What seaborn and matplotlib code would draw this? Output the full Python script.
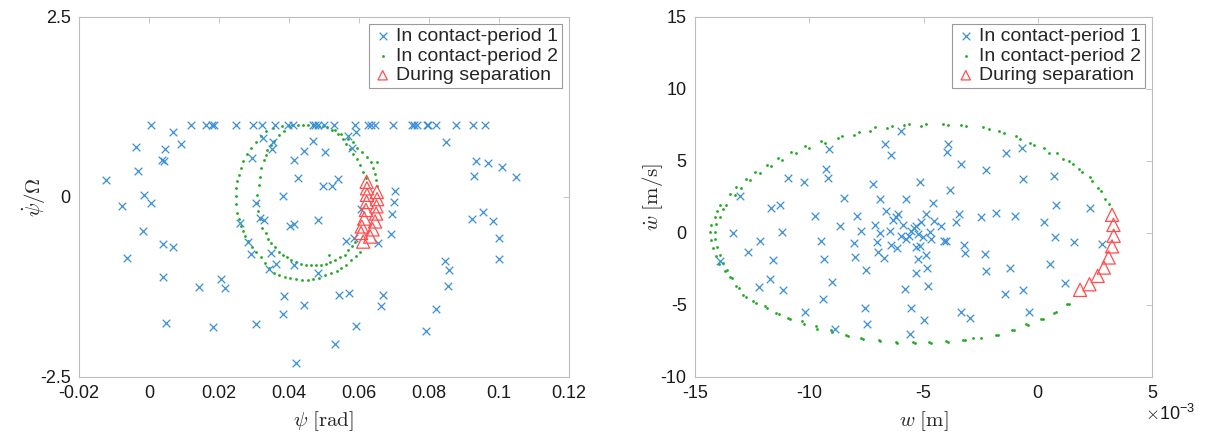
import numpy as np
import matplotlib
matplotlib.use("Agg")
import matplotlib.pyplot as plt
import seaborn as sns

# ---- left panel: psi [rad] vs psi_dot / Omega ----
psi_top_row = [0.0005, 0.012, 0.0162, 0.0179, 0.0186, 0.0249, 0.0296, 0.0322, 0.036, 0.0398,
               0.0412, 0.0468, 0.0474, 0.0484, 0.0499, 0.0529, 0.059, 0.0625, 0.0635, 0.0647,
               0.0697, 0.0751, 0.0758, 0.0765, 0.0793, 0.0798, 0.0821, 0.0876, 0.0927, 0.0959]
psi_c1 = [0.0069, -0.0037, 0.0046, 0.0091, 0.0038, 0.0044, -0.0031, -0.0123, -0.0014, 0.0327,
          0.0355, 0.0351, 0.0295, 0.0415, 0.0444, 0.0427, 0.0468, 0.0503, 0.0498, 0.0522,
          0.0539, 0.0569, 0.0591, 0.0579, 0.0382, 0.0703, 0.0849, 0.0935, 0.097, 0.101,
          0.0928, 0.105,
          -0.0078, 0.0005, -0.0016, -0.0064, 0.0041, 0.0069, 0.0039, 0.005, 0.0144, 0.0205,
          0.0217, 0.0184, 0.0305, 0.026, 0.0317, 0.0329, 0.0282, 0.0291, 0.0348, 0.0362,
          0.0343, 0.0403, 0.0414, 0.0415, 0.0482, 0.0482, 0.0387, 0.0382, 0.0444, 0.0305,
          0.042, 0.0542, 0.0571, 0.0531, 0.0591, 0.0562, 0.0587, 0.0606, 0.0655, 0.0691,
          0.0695, 0.0701, 0.0669, 0.0662, 0.0846, 0.0858, 0.0853, 0.0819, 0.0791, 0.0924,
          0.0955, 0.0984, 0.1001, 0.1001]
psidot_c1 = [0.90, 0.69, 0.667, 0.73, 0.51, 0.50, 0.36, 0.236, 0.025, 0.815,
             0.76, 0.667, 0.546, 0.514, 0.643, 0.27, 0.78, 0.63, 0.153, 0.153,
             0.245, 0.84, 0.90, 0.676, 0.01, 0.08, 0.76, 0.505, 0.468, 0.42,
             0.293, 0.273,
             -0.125, -0.079, -0.472, -0.85, -0.657, -0.699, -1.115, -1.745, -1.254, -1.143,
             -1.27, -1.81, -0.079, -0.366, -0.287, -0.32, -0.62, -0.79, -0.78, -0.93,
             -1.0, -0.41, -0.375, -0.944, -0.32, -1.05, -1.37, -1.63, -1.5, -1.76,
             -2.30, -1.357, -1.33, -2.04, -1.79, -0.607, -0.574, -0.167, -0.634, -0.514,
             -0.24, -0.074, -1.36, -1.52, -0.885, -1.014, -1.23, -1.56, -1.86, -0.306,
             -0.204, -0.333, -0.574, -0.866]

psi_c2 = [0.0355, 0.038, 0.041, 0.044, 0.047, 0.0497, 0.0522, 0.0541, 0.0555, 0.0564,
          0.0574, 0.0583, 0.0593, 0.0602, 0.0611, 0.0619,
          0.0334, 0.032, 0.0306, 0.0292, 0.0279, 0.027, 0.0262, 0.0256, 0.0252, 0.025,
          0.025, 0.025, 0.0252, 0.0256, 0.0262, 0.0268, 0.0275, 0.0282, 0.0293, 0.0306,
          0.032, 0.0331, 0.0343, 0.0357, 0.0371, 0.0388, 0.0404, 0.042, 0.0436, 0.0453,
          0.0469, 0.0486, 0.0504, 0.052, 0.0536, 0.055, 0.0564, 0.0577, 0.0591, 0.0602,
          0.0399, 0.0425, 0.0455, 0.0485, 0.0508, 0.0532, 0.055, 0.0569, 0.0583, 0.0595,
          0.0609, 0.0623, 0.0635, 0.0639, 0.0647, 0.0649, 0.0651,
          0.0385, 0.0371, 0.0357, 0.0348, 0.0338, 0.0333, 0.0329, 0.0321, 0.0317, 0.0313,
          0.031, 0.031, 0.0312, 0.0317, 0.0324, 0.0334, 0.0341, 0.0348,
          0.036, 0.0371, 0.0383, 0.0394, 0.0407, 0.0421, 0.0434, 0.0448, 0.0462, 0.0477,
          0.0491, 0.0505, 0.0518, 0.0532, 0.0546, 0.056, 0.0569, 0.0579, 0.0588,
          0.0515, 0.0652]
psidot_c2 = [0.96, 0.99, 1.0, 1.0, 1.0, 0.98, 0.93, 0.88, 0.81, 0.74,
             0.67, 0.60, 0.53, 0.44, 0.34, 0.27,
             0.92, 0.84, 0.77, 0.68, 0.59, 0.50, 0.40, 0.31, 0.22, 0.13,
             0.01, -0.10, -0.22, -0.31, -0.40, -0.47, -0.54, -0.61, -0.70, -0.77,
             -0.83, -0.92, -0.99, -1.05, -1.08, -1.11, -1.13, -1.14, -1.15, -1.15,
             -1.14, -1.13, -1.09, -1.06, -1.03, -0.99, -0.94, -0.88, -0.82, -0.76,
             0.98, 1.0, 1.0, 0.99, 0.97, 0.93, 0.87, 0.81, 0.76, 0.68,
             0.62, 0.55, 0.48, 0.40, 0.32, 0.24, 0.15,
             0.92, 0.86, 0.78, 0.72, 0.65, 0.58, 0.51, 0.40, 0.28, 0.17,
             0.03, -0.08, -0.20, -0.31, -0.43, -0.50, -0.58, -0.64,
             -0.70, -0.76, -0.80, -0.84, -0.87, -0.90, -0.93, -0.94, -0.95, -0.95,
             -0.94, -0.93, -0.90, -0.87, -0.83, -0.80, -0.74, -0.68, -0.63,
             -0.80, 0.48]

psi_sep = [0.0622, 0.0623, 0.0623, 0.0622, 0.062, 0.0615, 0.0608, 0.0606, 0.0612,
           0.0651, 0.0652, 0.065, 0.0649, 0.0646, 0.0639, 0.0632]
psidot_sep = [0.21, 0.12, 0.03, -0.07, -0.18, -0.30, -0.41, -0.50, -0.62,
              0.07, -0.03, -0.13, -0.23, -0.34, -0.45, -0.55]

# ---- right panel: w [x1e-3 m] vs w_dot [m/s] ----
w_c1 = [-5.98, -6.68, -6.41, -9.15, -9.26, -9.18, -10.93, -10.23, -7.22, -5.15,
        -3.94, -3.97, -3.38, -3.86, -2.26, -1.38, -0.69, -0.66, 0.73,
        -13.05, -11.66, -11.30, -13.34, -11.18, -12.17, -12.68, -11.59, -13.92, -11.71,
        -12.20, -11.15, -9.74, -9.48, -9.37, -9.01, -9.40, -10.17, -8.86, -8.50,
        -8.67, -7.90, -8.06, -8.02, -7.73, -7.51, -7.55, -7.46, -7.14, -6.92,
        -7.04, -7.00, -6.90, -6.66, -6.71, -6.49, -6.41, -6.20, -6.17, -6.12,
        -6.34, -5.90, -5.76, -5.80, -5.54, -5.61, -5.98, -5.76, -5.64, -5.54,
        -5.44, -5.32, -5.25, -5.32, -5.10, -5.03, -5.17, -5.00, -4.91, -4.88,
        -4.85, -4.81, -5.35, -5.25, -4.71, -4.66, -4.59, -4.56, -4.23, -4.11,
        -4.01, -3.57, -3.45, -3.21, -3.18, -3.38, -2.96, -2.48, -2.33, -2.26,
        -1.82, -1.21, -0.99, -1.43, -0.66, -0.39, 0.26, 0.55, 0.76, 0.80,
        1.20, 1.60, 2.29, 2.81]
wdot_c1 = [7.05, 6.21, 5.40, 5.86, 4.47, 3.84, 3.79, 3.56, 3.37, 3.53,
           6.21, 5.63, 4.77, 2.98, 4.37, 5.53, 5.88, 3.72, 3.95,
           2.56, 1.72, 1.95, -0.02, 0.09, -0.53, -1.30, -1.88, -1.93, -3.21,
           -3.72, -3.95, 1.16, -0.53, -1.81, -3.37, -4.60, -5.49, -6.70, 2.44,
           0.47, 1.21, -0.72, -1.65, 0.12, -2.56, -5.23, -6.35, 0.56, 2.37,
           -0.60, -1.35, 0.0, 1.56, -1.74, 0.12, -0.84, 1.09, -1.07, 1.33,
           0.91, 0.56, 2.37, -3.91, -5.19, -7.0, -0.23, -0.42, -0.19, 0.16,
           0.33, 0.51, -0.07, -1.0, 0.74, -0.30, -0.93, -6.07, 1.33, -1.51,
           -2.44, -3.67, -2.79, -1.81, 0.05, -0.42, 2.09, 0.86, 0.47, -0.58,
           -0.58, 0.79, 1.33, -0.84, -1.42, -5.49, -5.88, 1.09, -1.47, -2.63,
           1.40, -2.44, 1.21, -4.21, -3.95, -5.49, 0.74, -2.16, -0.26, 1.95,
           -3.44, -0.65, 1.74, -0.77]

w_c2 = [-13.48, -13.27, -13.19, -12.97, -12.78, -12.61, -12.39, -12.17, -11.84, -11.66,
        -11.37, -11.18, -10.79, -10.60, -10.17, -10.01, -9.50, -9.30, -8.75, -8.56,
        -8.05, -7.84, -7.33, -7.14, -6.60, -6.38, -5.87, -5.64, -5.10, -4.88,
        -4.13, -3.95, -3.35, -3.16, -2.41, -2.14, -1.68, -1.46, -0.95, -0.80,
        -0.36, -0.15, 0.29, 0.47, 0.85, 1.09, 1.38, 1.53, 1.82, 1.92,
        2.29, 2.38, 2.62, 2.77, 2.96, 3.10,
        -13.92, -13.66, -14.02, -13.78, -14.14, -13.92, -14.29, -14.10, -14.33, -14.14,
        -14.31, -14.14, -14.21, -14.04, -14.10, -13.92, -13.95, -13.78, -13.70, -13.60,
        -13.48, -13.37, -13.22, -13.09, -12.90, -12.76, -12.46, -12.35, -11.95, -11.84,
        -11.44, -11.33, -10.93, -10.83, -10.32, -10.25, -9.69, -9.65, -9.07, -9.01,
        -8.38, -8.31, -7.73, -7.65, -6.97, -6.90, -6.22, -6.17, -5.47, -5.39,
        -4.74, -4.66, -4.01, -3.94, -3.28, -3.18, -2.84, -2.48, -1.82, -1.75,
        -1.12, -1.06, -0.51, -0.44, 0.15, 0.22, 0.73, 0.80, 1.28, 1.36]
wdot_c2 = [2.72, 2.67, 3.19, 3.14, 3.77, 3.65, 4.26, 4.14, 4.72, 4.65,
           5.23, 5.07, 5.65, 5.53, 6.05, 5.88, 6.40, 6.28, 6.56, 6.74,
           6.79, 7.02, 7.05, 7.33, 7.26, 7.44, 7.49, 7.56, 7.44, 7.56,
           7.56, 7.52, 7.49, 7.44, 7.33, 7.21, 7.05, 6.91, 6.74, 6.51,
           6.28, 6.12, 5.88, 5.58, 5.53, 5.12, 5.00, 4.77, 4.47, 4.23,
           3.88, 3.60, 3.14, 2.91, 2.37, 2.02,
           1.91, 1.95, 1.56, 1.63, 1.09, 1.09, 0.56, 0.63, 0.05, 0.09,
           -0.49, -0.42, -1.07, -1.00, -1.58, -1.53, -2.16, -2.09, -2.63, -2.58,
           -3.09, -3.16, -3.67, -3.79, -4.33, -4.42, -4.72, -4.84, -5.07, -5.19,
           -5.53, -5.65, -5.88, -6.00, -6.12, -6.35, -6.47, -6.70, -6.74, -6.88,
           -7.05, -7.16, -7.28, -7.35, -7.40, -7.51, -7.56, -7.63, -7.58, -7.67,
           -7.56, -7.63, -7.51, -7.58, -7.40, -7.44, -7.28, -7.28, -7.05, -7.09,
           -6.74, -6.74, -6.35, -6.42, -6.00, -5.95, -5.58, -5.49, -4.95, -4.91]

w_sep = [1.85, 2.26, 2.62, 2.89, 3.10, 3.25, 3.32, 3.31, 3.25]
wdot_sep = [-3.95, -3.56, -2.98, -2.40, -1.70, -0.93, -0.19, 0.56, 1.26]

labels = ["In contact-period 1", "In contact-period 2", "During separation"]
blue = "#3b8fd8"
green = "#1faa1f"
red = "#ff4d4d"
grey = "#bdbdbd"

sns.set_style("white")
plt.rcParams["font.family"] = ["Liberation Sans", "DejaVu Sans"]
plt.rcParams["mathtext.fontset"] = "cm"
plt.rcParams["axes.unicode_minus"] = False

fig = plt.figure(figsize=(12.09, 4.38), dpi=100)
ax1 = fig.add_axes([0.0653, 0.1393, 0.4053, 0.822])
ax2 = fig.add_axes([0.5749, 0.1393, 0.378, 0.822])


def draw(ax, xb, yb, xg, yg, xr, yr):
    sns.scatterplot(x=xb, y=yb, marker="x", color=blue, s=30, linewidth=0.9, ax=ax,
                    label=labels[0], zorder=3)
    sns.scatterplot(x=xg, y=yg, marker="o", color=green, s=4, linewidth=0, ax=ax,
                    label=labels[1], zorder=2)
    sns.scatterplot(x=xr, y=yr, marker="^", facecolor="none", edgecolor=red, s=90,
                    linewidth=0.9, ax=ax, label=labels[2], zorder=4)
    for sp in ax.spines.values():
        sp.set_color(grey)
        sp.set_linewidth(0.8)
    ax.tick_params(direction="in", length=4, width=0.6, color=grey, labelsize=13,
                   labelcolor="#1a1a1a", top=True, right=True, pad=6)
    leg = ax.legend(loc="upper right", fancybox=False, edgecolor="#9a9a9a", framealpha=1,
                    fontsize=14, handletextpad=0.2, borderpad=0.2, labelspacing=0.1,
                    handlelength=1.0, borderaxespad=0.35)
    leg.get_frame().set_linewidth(0.8)
    leg.legend_handles[2].set_sizes([45])


psi_all = psi_top_row + psi_c1
psidot_all = [1.0] * len(psi_top_row) + psidot_c1
draw(ax1, psi_all, psidot_all, psi_c2, psidot_c2, psi_sep, psidot_sep)
ax1.set_xlim(-0.02, 0.12)
ax1.set_ylim(-2.5, 2.5)
ax1.set_xticks([-0.02, 0, 0.02, 0.04, 0.06, 0.08, 0.1, 0.12])
ax1.set_xticklabels(["-0.02", "0", "0.02", "0.04", "0.06", "0.08", "0.1", "0.12"])
ax1.set_yticks([-2.5, 0, 2.5])
ax1.set_yticklabels(["-2.5", "0", "2.5"])
ax1.set_xlabel(r"$\psi\ \mathrm{[rad]}$", fontsize=15, labelpad=5)
ax1.set_ylabel(r"$\dot{\psi}/\Omega$", fontsize=15)
ax1.yaxis.set_label_coords(-0.063, 0.5)

w_m = np.array(w_c1) * 1e-3
w2_m = np.array(w_c2) * 1e-3
w3_m = np.array(w_sep) * 1e-3
draw(ax2, w_m, wdot_c1, w2_m, wdot_c2, w3_m, wdot_sep)
ax2.set_xlim(-15e-3, 5e-3)
ax2.set_ylim(-10, 15)
ax2.set_xticks([-15e-3, -10e-3, -5e-3, 0, 5e-3])
ax2.set_xticklabels(["-15", "-10", "-5", "0", "5"])
ax2.set_yticks([-10, -5, 0, 5, 10, 15])
ax2.set_yticklabels(["-10", "-5", "0", "5", "10", "15"])
ax2.text(1.095, -0.075, r"$\times\mathdefault{10^{-3}}$", transform=ax2.transAxes,
         ha="right", va="top", fontsize=13, color="#1a1a1a")
ax2.set_xlabel(r"$w\ \mathrm{[m]}$", fontsize=15, labelpad=5)
ax2.set_ylabel(r"$\dot{w}\ \mathrm{[m/s]}$", fontsize=15)
ax2.yaxis.set_label_coords(-0.066, 0.5)

fig.savefig("out.png", dpi=100)
